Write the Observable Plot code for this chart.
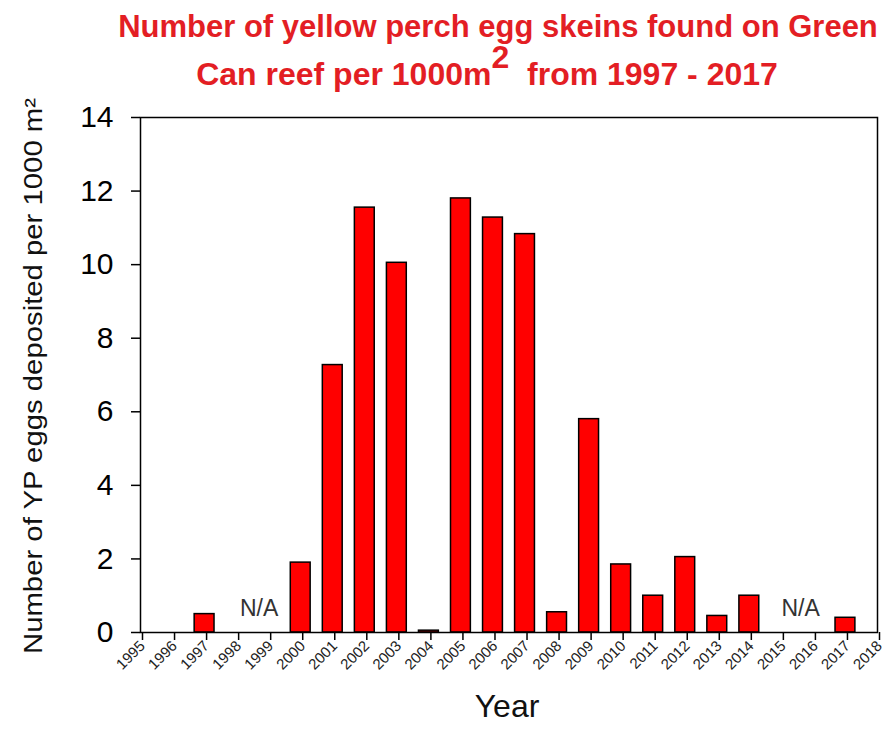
<!DOCTYPE html>
<html>
<head>
<meta charset="utf-8">
<script src="https://cdn.jsdelivr.net/npm/d3@7"></script>
<script src="https://cdn.jsdelivr.net/npm/@observablehq/plot@0.6"></script>
<style>
  html, body { margin: 0; padding: 0; background: #fff; }
  #wrap { position: relative; width: 886px; height: 736px; overflow: hidden; font-family: "Liberation Sans", Arial, sans-serif; background: #fff; }
  .title { position: absolute; width: 886px; text-align: center; font-weight: bold; font-size: 31px; line-height: 31px; color: #e31e24; white-space: nowrap; z-index: 2; }
  .sup { position: relative; top: -0.52em; font-size: 1em; line-height: 0; }
  #chart { position: absolute; left: 0; top: 88px; z-index: 1; }
</style>
</head>
<body>
<div id="wrap">
  <div class="title" style="left:55px; top:11px;">Number of yellow perch egg skeins found on Green</div>
  <div class="title" style="left:44px; top:59px; font-size:32px;">Can reef per 1000m<span class="sup">2</span>&nbsp; from 1997 - 2017</div>
  <div id="chart"></div>
</div>
<script>
const years  = [1997, 2000, 2001, 2002, 2003, 2004, 2005, 2006, 2007, 2008, 2009, 2010, 2011, 2012, 2013, 2014, 2017];
const values = [0.5, 1.9, 7.27, 11.55, 10.05, 0.05, 11.8, 11.28, 10.83, 0.55, 5.8, 1.85, 1.0, 2.05, 0.45, 1.0, 0.4];
const tickYears = d3.range(1995, 2019);
const yTicks = [0, 2, 4, 6, 8, 10, 12, 14];
const naLabels = [{year: 1998.7, y: 0.65, text: "N/A"}, {year: 2015.6, y: 0.65, text: "N/A"}];
const yLabel = "Number of YP eggs deposited per 1000 m²";
const xLabel = "Year";

const data = years.map((y, i) => ({year: y, value: values[i]}));
const half = 0.31;

const chart = Plot.plot({
  width: 886,
  height: 648,
  marginTop: 29,
  marginBottom: 104,
  marginLeft: 140,
  marginRight: 9,
  style: {fontFamily: "Liberation Sans, Arial, sans-serif", background: "transparent"},
  x: {domain: [1995, 2018]},
  y: {domain: [0, 14]},
  marks: [
    Plot.rectY(data, {x1: d => d.year - half, x2: d => d.year + half, y: "value", fill: "#ff0000", stroke: "#000", strokeWidth: 1.5}),
    Plot.frame({stroke: "#000", strokeWidth: 1.5}),
    Plot.axisY({ticks: yTicks, tickSize: 9, tickPadding: 18, fontSize: 30, label: null, tickFormat: d => String(d), color: "#000", strokeWidth: 1.5}),
    Plot.axisX({ticks: tickYears, tickSize: 8, tickPadding: 3, tickRotate: -45, fontSize: 15, fill: "#222", label: null, tickFormat: d => String(d), dx: 2, strokeWidth: 1.5}),
    Plot.text(naLabels, {x: "year", y: "y", text: "text", fontSize: 23, fill: "#333"}),
    Plot.text([yLabel], {frameAnchor: "left", textAnchor: "middle", dx: -107, dy: 1, rotate: -90, fontSize: 26, fill: "#111"}),
    Plot.text([xLabel], {frameAnchor: "bottom", dx: -2, dy: 84, fontSize: 32, fill: "#111"})
  ]
});
// stretch the rotated y label along its reading direction to match the reference length
d3.select(chart).selectAll("text").filter(function() { return this.textContent === yLabel; })
  .attr("textLength", 556).attr("lengthAdjust", "spacingAndGlyphs");
document.getElementById("chart").appendChild(chart);
</script>
</body>
</html>
